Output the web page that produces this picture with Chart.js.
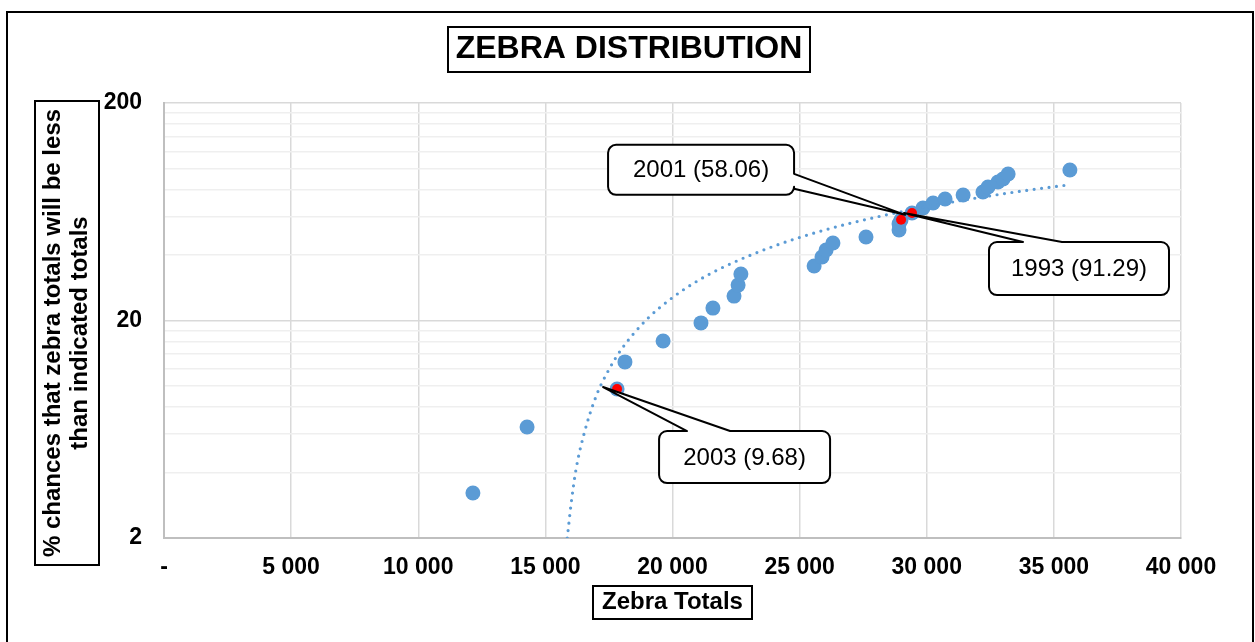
<!DOCTYPE html>
<html>
<head>
<meta charset="utf-8">
<title>Zebra distribution</title>
<script src="https://cdn.jsdelivr.net/npm/chart.js@4.4.1/dist/chart.umd.min.js"></script>
<style>
    html, body { margin: 0; padding: 0; background: #ffffff; }
    #wrap { position: relative; width: 1255px; height: 642px; }
</style>
</head>
<body>
<div id="wrap"><canvas id="chart" width="1255" height="642"></canvas></div>
<script>
/*
 * Zebra distribution: scatter on a log axis, dotted trend, three callouts.
 * Values.
 */
const zebraTotals = [12150, 14280, 17820, 18130, 19630, 21120, 21590, 22420, 22580, 22690,
                     25570, 25880, 26040, 26310, 27610, 28910, 28910, 28990, 29420, 29850,
                     30250, 30720, 31430, 32210, 32410, 32800, 33000, 33200, 35630];
const pctLess = [3.22, 6.48, 9.68, 12.9, 16.1, 19.5, 22.8, 25.9, 29.1, 32.7,
                 35.6, 39.2, 42.2, 45.4, 48.4, 52.1, 55.6, 58.06, 62.4, 65.8,
                 69.4, 72.4, 75.5, 78.0, 82.2, 86.7, 89.4, 94.3, 98.4];

const markedYears = ['2003', '2001', '1993'];
const markedTotals = [17820, 28990, 29420];
const markedPct = [9.68, 58.06, 62.4];
const markedLabelValues = [9.68, 58.06, 91.29];

const trendTotals = [15860, 15900, 16000, 16200, 16500, 17000, 17500, 18000, 19000, 20000,
                     21000, 22000, 24000, 26000, 28000, 30000, 32000, 34000, 35600];
const trendPct = [2.0, 2.2, 2.8, 4.1, 5.9, 9.0, 11.9, 14.8, 20.3, 25.5,
                  30.5, 35.2, 44.0, 52.2, 59.7, 66.7, 73.3, 79.5, 84.1];

const xTickValues = [0, 5000, 10000, 15000, 20000, 25000, 30000, 35000, 40000];
const yGridValues = [2, 4, 6, 8, 10, 12, 14, 16, 18, 20, 40, 60, 80, 100, 120, 140, 160, 180, 200];
const yTickValues = [2, 20, 200];

(function () {
    'use strict';

    const FONT = 'Liberation Sans, Arial, sans-serif';
    const BLUE = '#5b9bd5';

    // callout boxes, placed relative to their marked point (pixels)
    const CALLOUTS = [
        { dx: 42, dy: 42, w: 171, h: 52, side: 'top', b1: 28, b2: 71, tx: -14, ty: -2 },
        { dx: -293, dy: -75, w: 186, h: 50, side: 'right', b1: 29, b2: 44, tx: 4, ty: -5 },
        { dx: 77, dy: 29, w: 180, h: 53, side: 'top', b1: 34, b2: 73, tx: -8, ty: 0 }
    ];

    function fmtThousands(v) {
        if (v === 0) return '-';
        return String(v).replace(/\B(?=(\d{3})+(?!\d))/g, ' ');
    }

    function boxedText(ctx, x, y, w, h, lines, font, lineGap) {
        ctx.save();
        ctx.fillStyle = '#ffffff';
        ctx.fillRect(x, y, w, h);
        ctx.lineWidth = 2;
        ctx.strokeStyle = '#000000';
        ctx.strokeRect(x, y, w, h);
        ctx.fillStyle = '#000000';
        ctx.font = font;
        ctx.textAlign = 'center';
        ctx.textBaseline = 'middle';
        const cx = x + w / 2, cy = y + h / 2;
        lines.forEach(function (t, i) {
            ctx.fillText(t, cx, cy + (i - (lines.length - 1) / 2) * (lineGap || 0));
        });
        ctx.restore();
    }

    function calloutPath(ctx, x, y, w, h, r, c, tipX, tipY) {
        ctx.beginPath();
        ctx.moveTo(x + r, y);
        if (c.side === 'top') {
            ctx.lineTo(x + c.b1, y);
            ctx.lineTo(tipX, tipY);
            ctx.lineTo(x + c.b2, y);
        }
        ctx.lineTo(x + w - r, y);
        ctx.arcTo(x + w, y, x + w, y + r, r);
        if (c.side === 'right') {
            ctx.lineTo(x + w, y + c.b1);
            ctx.lineTo(tipX, tipY);
            ctx.lineTo(x + w, y + c.b2);
        }
        ctx.lineTo(x + w, y + h - r);
        ctx.arcTo(x + w, y + h, x + w - r, y + h, r);
        ctx.lineTo(x + r, y + h);
        ctx.arcTo(x, y + h, x, y + h - r, r);
        ctx.lineTo(x, y + r);
        ctx.arcTo(x, y, x + r, y, r);
        ctx.closePath();
    }

    const decorations = {
        id: 'decorations',
        beforeDraw: function (chart) {
            const ctx = chart.ctx;
            ctx.save();
            ctx.fillStyle = '#ffffff';
            ctx.fillRect(0, 0, chart.width, chart.height);
            ctx.restore();
        },
        afterDatasetsDraw: function (chart) {
            const ctx = chart.ctx;
            const xs = chart.scales.x, ys = chart.scales.y;
            ctx.save();
            markedTotals.forEach(function (t, i) {
                const c = CALLOUTS[i];
                const px = xs.getPixelForValue(t);
                const py = ys.getPixelForValue(markedPct[i]);
                const bx = px + c.dx, by = py + c.dy;
                calloutPath(ctx, bx, by, c.w, c.h, 8, c, px + c.tx, py + c.ty);
                ctx.fillStyle = '#ffffff';
                ctx.fill();
                ctx.lineWidth = 2;
                ctx.lineJoin = 'round';
                ctx.strokeStyle = '#000000';
                ctx.stroke();
                ctx.fillStyle = '#000000';
                ctx.font = '24px ' + FONT;
                ctx.textAlign = 'center';
                ctx.textBaseline = 'middle';
                ctx.fillText(markedYears[i] + ' (' + markedLabelValues[i].toFixed(2) + ')',
                             bx + c.w / 2, by + c.h / 2 + 1);
            });
            ctx.restore();
        },
        afterDraw: function (chart) {
            const ctx = chart.ctx;
            // outer frame
            ctx.save();
            ctx.lineWidth = 2;
            ctx.strokeStyle = '#000000';
            ctx.strokeRect(7, 12, 1246, 700);
            ctx.restore();

            boxedText(ctx, 448, 27, 362, 45, ['ZEBRA DISTRIBUTION'], 'bold 32px ' + FONT);
            boxedText(ctx, 593, 586, 159, 33, ['Zebra Totals'], 'bold 24px ' + FONT);

            // rotated y title
            ctx.save();
            ctx.translate(67, 333);
            ctx.rotate(-Math.PI / 2);
            boxedText(ctx, -232, -32, 464, 64,
                      ['% chances that zebra totals will be less', 'than indicated totals'],
                      'bold 24px ' + FONT, 27);
            ctx.restore();
        }
    };

    const config = {
        type: 'scatter',
        data: {
            datasets: [
                {
                    label: 'marked years',
                    data: markedTotals.map(function (x, i) { return { x: x, y: markedPct[i] }; }),
                    backgroundColor: '#ff0000',
                    borderColor: '#ff0000',
                    borderWidth: 0,
                    pointRadius: 5,
                    order: 0
                },
                {
                    label: 'trend',
                    data: trendTotals.map(function (x, i) { return { x: x, y: trendPct[i] }; }),
                    showLine: true,
                    pointRadius: 0,
                    borderColor: BLUE,
                    borderWidth: 3.2,
                    borderDash: [0, 7.5],
                    borderCapStyle: 'round',
                    cubicInterpolationMode: 'monotone',
                    order: 1
                },
                {
                    label: 'zebra',
                    data: zebraTotals.map(function (x, i) { return { x: x, y: pctLess[i] }; }),
                    backgroundColor: BLUE,
                    borderColor: BLUE,
                    borderWidth: 0,
                    pointRadius: 7.5,
                    order: 2
                }
            ]
        },
        options: {
            responsive: false,
            animation: false,
            layout: { padding: { left: 0, top: 103, right: 74, bottom: 0 } },
            plugins: {
                legend: { display: false },
                tooltip: { enabled: false },
                title: { display: false }
            },
            scales: {
                x: {
                    type: 'linear',
                    min: 0,
                    max: 40000,
                    afterBuildTicks: function (s) { s.ticks = xTickValues.map(function (v) { return { value: v }; }); },
                    afterFit: function (s) { s.height = 104; },
                    grid: { color: '#d9d9d9', lineWidth: 1.5, drawTicks: false },
                    border: { color: '#bfbfbf', width: 2 },
                    ticks: {
                        padding: 16,
                        color: '#000000',
                        autoSkip: false,
                        maxRotation: 0,
                        font: { family: FONT, size: 23, weight: 'bold' },
                        callback: function (v) { return fmtThousands(v); }
                    }
                },
                y: {
                    type: 'logarithmic',
                    min: 2,
                    max: 200,
                    afterBuildTicks: function (s) { s.ticks = yGridValues.map(function (v) { return { value: v }; }); },
                    afterFit: function (s) { s.width = 164; },
                    grid: {
                        drawTicks: false,
                        lineWidth: 1.5,
                        color: function (ctx) {
                            return ctx.tick && yTickValues.indexOf(ctx.tick.value) >= 0 ? '#d9d9d9' : '#efefef';
                        }
                    },
                    border: { color: '#bfbfbf', width: 2 },
                    ticks: {
                        padding: 22,
                        color: '#000000',
                        autoSkip: false,
                        font: { family: FONT, size: 23, weight: 'bold' },
                        callback: function (v) { return yTickValues.indexOf(v) >= 0 ? String(v) : ''; }
                    }
                }
            }
        },
        plugins: [decorations]
    };

    new Chart(document.getElementById('chart'), config);
})();
</script>
</body>
</html>
